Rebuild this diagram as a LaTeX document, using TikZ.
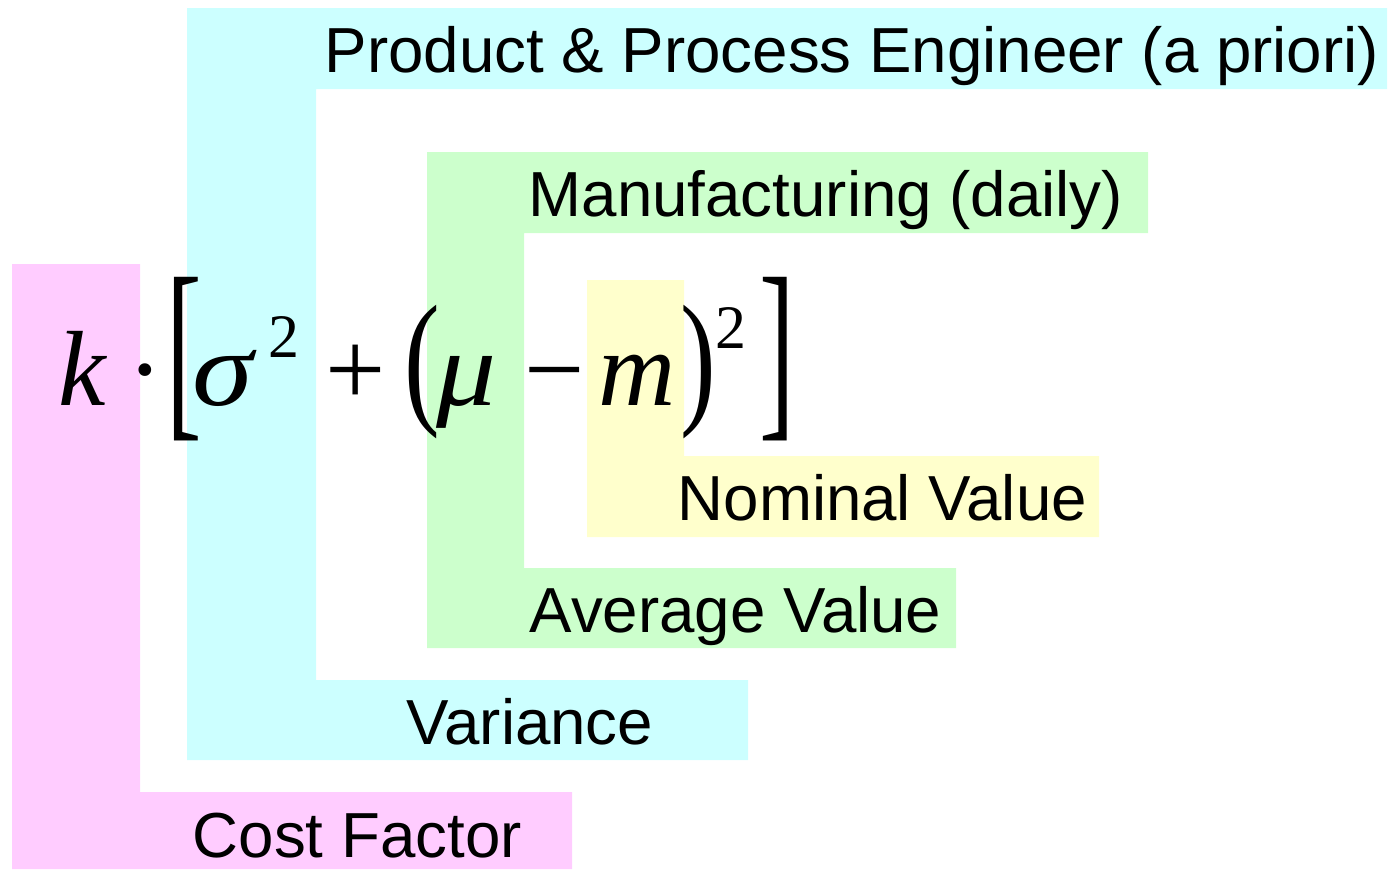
\documentclass[tikz,border=0pt]{standalone}
\usepackage{fontspec}
\usepackage{graphicx}
\usetikzlibrary{positioning}
\setmainfont{Liberation Sans}
\newfontfamily\formfont{Liberation Serif}
\definecolor{costpink}{HTML}{FFCCFF}
\definecolor{varcyan}{HTML}{CCFFFF}
\definecolor{avggreen}{HTML}{CCFFCC}
\definecolor{nomyellow}{HTML}{FFFFCC}
\tikzset{
    bartext/.style={anchor=base west, inner sep=0pt, font=\fontsize{18.1}{18.1}\selectfont}, % Labels on the bars
    term/.style={anchor=base west, inner sep=0pt, font=\formfont\fontsize{30.4}{30.4}\selectfont}, % Formula symbols
    power/.style={anchor=base west, inner sep=0pt, font=\formfont\fontsize{17.6}{17.6}\selectfont}, % Exponents
}

\begin{document}
\begin{tikzpicture}[x=0.01cm, y=-0.01cm]
        \useasboundingbox (0,0) rectangle (1399,869);

        % Bars behind the formula
        \fill[costpink] (12,264) -- (140,264) -- (140,792) -- (572,792) -- (572,869) -- (12,869) -- cycle;
        \fill[varcyan] (187,8) -- (1387,8) -- (1387,89) -- (316,89) -- (316,680) -- (748,680) -- (748,760) -- (187,760) -- cycle;
        \fill[avggreen] (427,152) -- (1148,152) -- (1148,233) -- (524,233) -- (524,568) -- (956,568) -- (956,648) -- (427,648) -- cycle;
        \fill[nomyellow] (587,280) -- (684,280) -- (684,456) -- (1099,456) -- (1099,537) -- (587,537) -- cycle;

        % Formula
        \node (k) [term] at (58,405) {\itshape k};
        \node (dot) [term] at (127,405) {\symbol{"00B7}};
        \node (lbrack) [term] at (166,414) {\scalebox{1}[1.85]{[}};
        \node (sigma) [term] at (192,405) {\itshape\scalebox{1.15}[1]{σ}};
        \node (sq1) [power] at (268,357) {2};
        \node (plus) [term] at (325,405) {+};
        \node (lpar) [term] at (404,407) {\scalebox{1}[1.38]{(}};
        \node (mu) [term] at (436,405) {\itshape\scalebox{1.12}[1]{μ}};
        \node (minus) [term] at (524,405) {\symbol{"2212}};
        \node (m) [term] at (598,405) {\itshape m};
        \node (rpar) [term] at (680,407) {\scalebox{1}[1.38]{)}};
        \node (sq2) [power] at (715,348) {2};
        \node (rbrack) [term] at (759,414) {\scalebox{1}[1.85]{]}};

        % Labels
        \node (engineer) [bartext] at (324,72) {Product \& Process Engineer (a priori)};
        \node (manufact) [bartext] at (528,216) {Manufacturing (daily)};
        \node (nominal) [bartext] at (677,520) {Nominal Value};
        \node (average) [bartext] at (529,632) {Average Value};
        \node (variance) [bartext] at (406,744) {Variance};
        \node (cost) [bartext] at (192,857) {Cost Factor};
    \end{tikzpicture}
\end{document}
